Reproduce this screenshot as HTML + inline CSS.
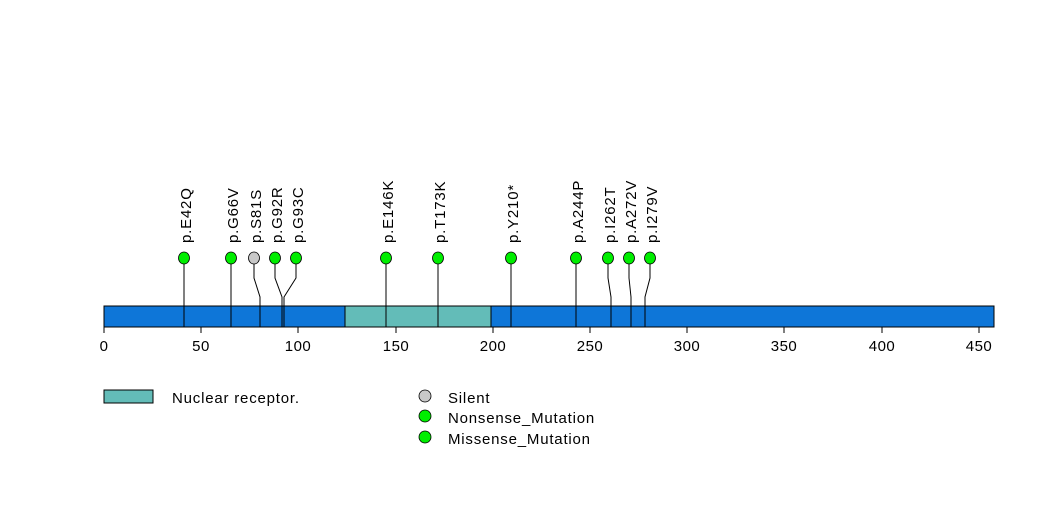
<!DOCTYPE html>
<html><head><meta charset="utf-8"><style>
html,body{margin:0;padding:0;background:#fff;}
svg{display:block;font-family:"Liberation Sans",Arial,sans-serif;}
</style></head><body>
<svg width="1047" height="524" viewBox="0 0 1047 524" xmlns="http://www.w3.org/2000/svg">
<rect x="104" y="306" width="890" height="21" fill="#0e76d8" stroke="#000" stroke-width="1"/>
<rect x="345" y="306" width="146" height="21" fill="#63bcb8" stroke="#000" stroke-width="1"/>
<g stroke="#000" stroke-width="1" fill="none">
<polyline points="184,259 184,278 184,297 184,327"/>
<polyline points="231,259 231,278 231,297 231,327"/>
<polyline points="254,259 254,278 260,297 260,327"/>
<polyline points="275,259 275,278 282,297 282,327"/>
<polyline points="296,259 296,278 284,297 284,327"/>
<polyline points="386,259 386,327"/>
<polyline points="438,259 438,327"/>
<polyline points="511,259 511,327"/>
<polyline points="576,259 576,327"/>
<polyline points="608,259 608,278 611,297 611,327"/>
<polyline points="629,259 629,278 631,297 631,327"/>
<polyline points="650,259 650,278 645,297 645,327"/>
<line x1="104" y1="327" x2="979" y2="327"/>
<line x1="104" y1="327" x2="104" y2="333"/><line x1="201" y1="327" x2="201" y2="333"/>
<line x1="298" y1="327" x2="298" y2="333"/><line x1="396" y1="327" x2="396" y2="333"/>
<line x1="493" y1="327" x2="493" y2="333"/><line x1="590" y1="327" x2="590" y2="333"/>
<line x1="687" y1="327" x2="687" y2="333"/><line x1="784" y1="327" x2="784" y2="333"/>
<line x1="882" y1="327" x2="882" y2="333"/><line x1="979" y1="327" x2="979" y2="333"/>
</g>
<g font-size="15" fill="#000" text-anchor="middle" letter-spacing="0.5">
<text x="104" y="351">0</text><text x="201" y="351">50</text><text x="298" y="351">100</text>
<text x="396" y="351">150</text><text x="493" y="351">200</text><text x="590" y="351">250</text>
<text x="687" y="351">300</text><text x="784" y="351">350</text><text x="882" y="351">400</text>
<text x="979" y="351">450</text>
</g>
<g stroke="#000" stroke-width="0.8">
<ellipse cx="184" cy="258" rx="5.5" ry="6" fill="#00ee00"/>
<ellipse cx="231" cy="258" rx="5.5" ry="6" fill="#00ee00"/>
<ellipse cx="254" cy="258" rx="5.5" ry="6" fill="#c8c8c8"/>
<ellipse cx="275" cy="258" rx="5.5" ry="6" fill="#00ee00"/>
<ellipse cx="296" cy="258" rx="5.5" ry="6" fill="#00ee00"/>
<ellipse cx="386" cy="258" rx="5.5" ry="6" fill="#00ee00"/>
<ellipse cx="438" cy="258" rx="5.5" ry="6" fill="#00ee00"/>
<ellipse cx="511" cy="258" rx="5.5" ry="6" fill="#00ee00"/>
<ellipse cx="576" cy="258" rx="5.5" ry="6" fill="#00ee00"/>
<ellipse cx="608" cy="258" rx="5.5" ry="6" fill="#00ee00"/>
<ellipse cx="629" cy="258" rx="5.5" ry="6" fill="#00ee00"/>
<ellipse cx="650" cy="258" rx="5.5" ry="6" fill="#00ee00"/>
</g>
<g font-size="15" fill="#000" letter-spacing="0.8">
<text transform="translate(191,243) rotate(-90)">p.E42Q</text>
<text transform="translate(238,243) rotate(-90)">p.G66V</text>
<text transform="translate(261,243) rotate(-90)">p.S81S</text>
<text transform="translate(282,243) rotate(-90)">p.G92R</text>
<text transform="translate(303,243) rotate(-90)">p.G93C</text>
<text transform="translate(393,243) rotate(-90)">p.E146K</text>
<text transform="translate(445,243) rotate(-90)">p.T173K</text>
<text transform="translate(518,243) rotate(-90)">p.Y210*</text>
<text transform="translate(583,243) rotate(-90)">p.A244P</text>
<text transform="translate(615,243) rotate(-90)">p.I262T</text>
<text transform="translate(636,243) rotate(-90)">p.A272V</text>
<text transform="translate(657,243) rotate(-90)">p.I279V</text>
</g>
<rect x="104" y="390" width="49" height="13" fill="#63bcb8" stroke="#000" stroke-width="1"/>
<g font-size="15" fill="#000" letter-spacing="0.8">
<text x="172" y="403">Nuclear receptor.</text>
<text x="448" y="403">Silent</text>
<text x="448" y="423">Nonsense_Mutation</text>
<text x="448" y="444">Missense_Mutation</text>
</g>
<g stroke="#000" stroke-width="0.8">
<circle cx="425" cy="396" r="6" fill="#c8c8c8"/>
<circle cx="425" cy="416" r="6" fill="#00ee00"/>
<circle cx="425" cy="437" r="6" fill="#00ee00"/>
</g>
</svg>
</body></html>
